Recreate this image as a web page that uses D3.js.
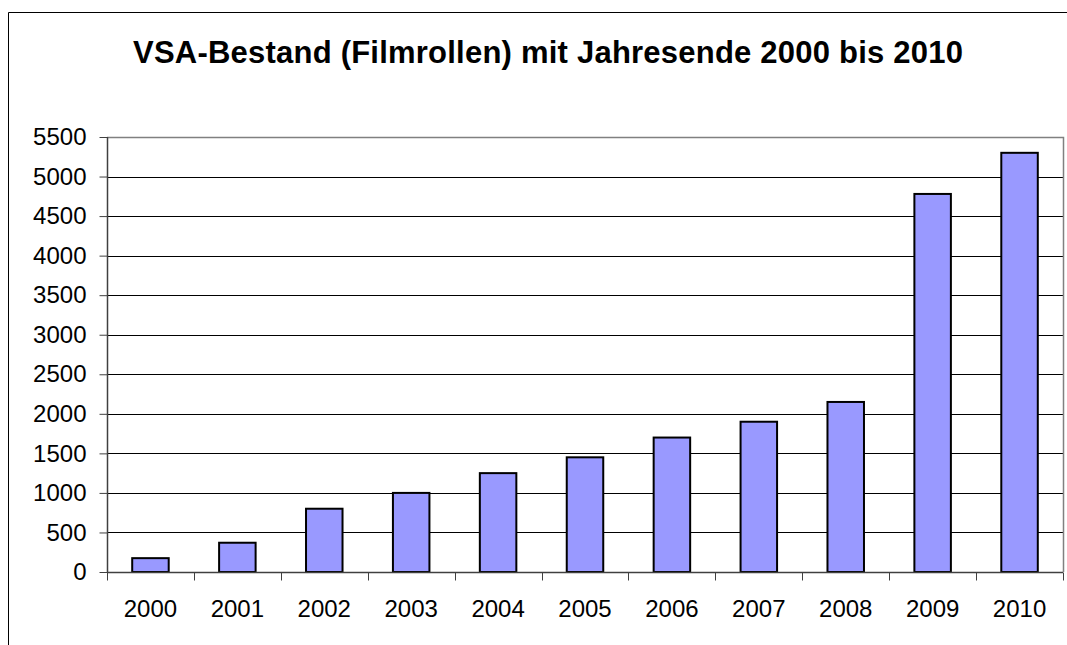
<!DOCTYPE html>
<html><head><meta charset="utf-8">
<script src="https://cdn.jsdelivr.net/npm/d3@7"></script>
<style>body{margin:0;background:#fff;} svg{display:block;}</style>
</head><body>
<svg id="c" width="1067" height="645"></svg>
<script>
const years = ["2000","2001","2002","2003","2004","2005","2006","2007","2008","2009","2010"];
const values = [175, 370, 800, 1000, 1250, 1450, 1700, 1900, 2150, 4780, 5300];
const yTicks = [0,500,1000,1500,2000,2500,3000,3500,4000,4500,5000,5500];
const title = "VSA-Bestand (Filmrollen) mit Jahresende 2000 bis 2010";

const svg = d3.select("#c");
const font = "'Liberation Sans', Arial, sans-serif";
const L = 107, R = 1063, T = 137, B = 572;

// outer frame (extends past the right and bottom edges, as in the reference)
svg.append("path").attr("d","M8.5,700V12.5H1100").attr("fill","none")
  .attr("stroke","#000").attr("stroke-width",1);

svg.append("text").attr("x",548).attr("y",63).attr("text-anchor","middle")
  .attr("font-family",font).attr("font-weight","bold").attr("font-size",31)
  .attr("textLength",830).attr("lengthAdjust","spacing")
  .text(title);

const x = d3.scaleBand().domain(years).range([L,R]).paddingInner(0.58).paddingOuter(0.29);
const xc = d3.scaleBand().domain(years).range([L,R]);
const y = d3.scaleLinear().domain([0,5500]).range([B,T]);

// gridlines
svg.append("g").selectAll("line").data(yTicks.slice(1,-1)).join("line")
  .attr("x1",L).attr("x2",R).attr("y1",d=>Math.round(y(d))+0.5).attr("y2",d=>Math.round(y(d))+0.5)
  .attr("stroke","#000").attr("stroke-width",1);

// plot area border top/right
svg.append("path").attr("d",`M${L},${T+0.5}H${R+0.5}V${B}`).attr("fill","none")
  .attr("stroke","#808080").attr("stroke-width",1.5);

// bars
svg.append("g").selectAll("rect").data(values).join("rect")
  .attr("x",(d,i)=>x(years[i])).attr("width",x.bandwidth())
  .attr("y",d=>y(d)).attr("height",d=>B-y(d))
  .attr("fill","#9999FF").attr("stroke","#000").attr("stroke-width",2);

// y axis
const ya = d3.axisLeft(y).tickValues(yTicks).tickSize(8).tickPadding(13).tickFormat(d3.format("d"));
const gy = svg.append("g").attr("transform",`translate(${L+0.5},0)`).call(ya);
gy.select(".domain").attr("stroke","#404040").attr("stroke-width",1.5).attr("d",`M0,${T}V${B}`);
gy.selectAll(".tick line").attr("stroke","#404040");
gy.selectAll("text").attr("font-family",font).attr("font-size",24).attr("fill","#000");

// x axis
const gx = svg.append("g").attr("transform",`translate(0,${B+0.5})`);
gx.append("line").attr("x1",L).attr("x2",R).attr("stroke","#404040").attr("stroke-width",1.5);
const bounds = years.map(d=>xc(d)).concat([R]);
gx.selectAll("line.t").data(bounds).join("line").attr("class","t")
  .attr("x1",d=>Math.round(d)+0.5).attr("x2",d=>Math.round(d)+0.5).attr("y1",0).attr("y2",8)
  .attr("stroke","#404040");
gx.selectAll("text").data(years).join("text")
  .attr("x",d=>xc(d)+xc.bandwidth()/2).attr("y",44).attr("text-anchor","middle")
  .attr("font-family",font).attr("font-size",24).text(d=>d);
</script>
</body></html>
